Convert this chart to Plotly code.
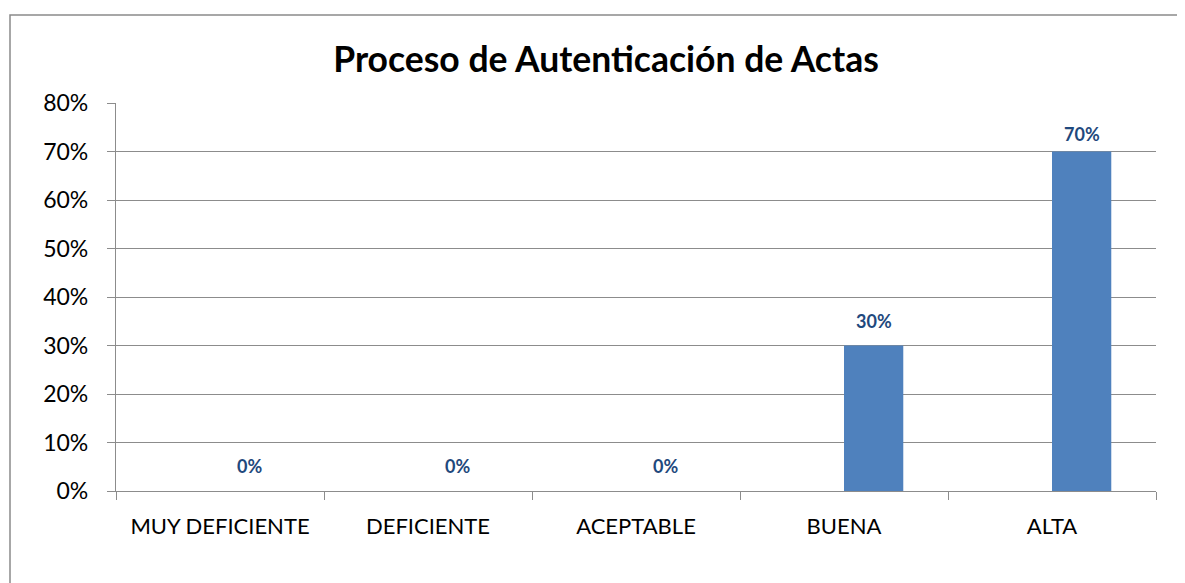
import plotly.graph_objects as go

categories = ["MUY DEFICIENTE", "DEFICIENTE", "ACEPTABLE", "BUENA", "ALTA"]
values = [0.0, 0.0, 0.0, 0.30, 0.70]
title_text = "Proceso de Autenticación de Actas"

FONT = "Lato"
GRID = "#8c8c8c"
BAR_W = 0.285  # in category units; bar sits on the right half of its slot

fig = go.Figure()
fig.add_trace(go.Bar(
    x=categories, y=values,
    marker=dict(color="#4F81BD", line=dict(width=0)),
    offset=0, width=BAR_W,
    hoverinfo="skip",
))

# page has an 8px body margin; figure coords = viewport coords - 8
OFF = 8
W, H = 1185 - OFF, 583 - OFF
L, T = 116 - OFF, 103 - OFF
R = W - (1156 - OFF)
B = H - (491 - OFF)
pw, ph = W - L - R, H - T - B
slot_px = pw / len(categories)

for c, v in zip(categories, values):
    fig.add_annotation(
        x=c, y=v, text=f"{v*100:.0f}%", showarrow=False,
        xshift=BAR_W * slot_px / 2,
        yanchor="bottom", yshift=5 if v > 0.6 else 12,
        font=dict(family=FONT, size=18, color="#1F497D", weight="bold"),
    )

def px_x(x):
    return (x - OFF - L) / pw

def px_y(y):
    return (H - B - (y - OFF)) / ph

fig.add_shape(type="rect", xref="paper", yref="paper",
              x0=px_x(10), x1=px_x(1200), y0=px_y(600), y1=px_y(15),
              line=dict(color="#8a8a8a", width=1.5), fillcolor="rgba(0,0,0,0)")

fig.update_layout(
    width=W, height=H,
    margin=dict(l=L, r=R, t=T, b=B),
    paper_bgcolor="white", plot_bgcolor="white",
    showlegend=False,
    title=dict(text=title_text, x=(606 - OFF) / W, xref="container", xanchor="center",
               y=1 - (60 - OFF) / H, yref="container", yanchor="middle",
               font=dict(family=FONT, size=35.5, color="black", weight="bold")),
    font=dict(family=FONT, color="black"),
)
fig.update_xaxes(
    type="category", tickson="boundaries", ticks="outside", ticklen=8, tickcolor=GRID,
    tickwidth=1.3, showline=True, linecolor=GRID, linewidth=1.3, showgrid=False,
    tickfont=dict(family=FONT, size=22, color="black"), ticklabelstandoff=15,
)
fig.update_yaxes(
    range=[0, 0.8], dtick=0.1, tickformat=".0%", ticks="outside", ticklen=8,
    tickcolor=GRID, tickwidth=1.3, showline=True, linecolor=GRID, linewidth=1.3,
    showgrid=True, gridcolor=GRID, gridwidth=1.3, zeroline=False,
    tickfont=dict(family=FONT, size=23, color="black"), ticklabelstandoff=14,
)

fig.write_html("out.html")
